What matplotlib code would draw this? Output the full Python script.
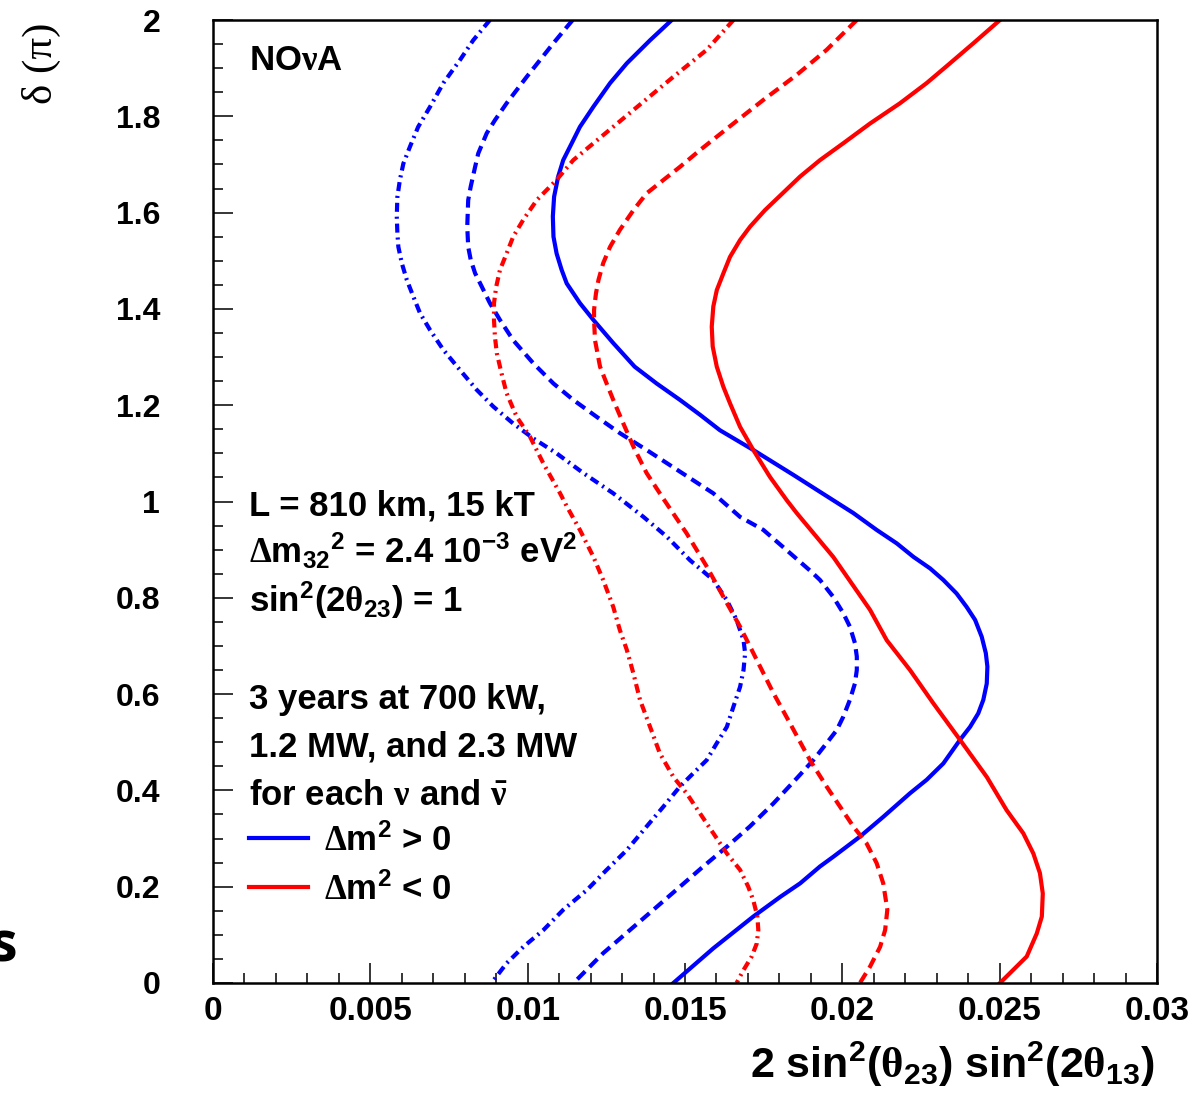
import matplotlib
matplotlib.use("Agg")
import matplotlib.pyplot as plt
from matplotlib.lines import Line2D
from matplotlib.ticker import MultipleLocator

# curves: delta (units of pi) and 2 sin^2(th23) sin^2(2 th13)
BLUE_SOLID_D = [2.000, 1.958, 1.910, 1.869, 1.820, 1.778, 1.744, 1.709, 1.675, 1.633, 1.592,
                1.550, 1.515, 1.481, 1.453, 1.412, 1.377, 1.329, 1.280, 1.245, 1.211, 1.180,
                1.148, 1.107, 1.055, 1.003, 0.976, 0.941, 0.913, 0.885, 0.861, 0.837, 0.809,
                0.781, 0.754, 0.719, 0.685, 0.657, 0.622, 0.588, 0.560, 0.532, 0.505, 0.456,
                0.422, 0.394, 0.345, 0.304, 0.262, 0.242, 0.207, 0.179, 0.138, 0.072, 0.000]
BLUE_SOLID_X = [0.01458, 0.01389, 0.01315, 0.01262, 0.01209, 0.01166, 0.01140, 0.01113, 0.01097,
                0.01084, 0.01080, 0.01082, 0.01092, 0.01108, 0.01124, 0.01166, 0.01209, 0.01272,
                0.01340, 0.01410, 0.01484, 0.01548, 0.01611, 0.01717, 0.01845, 0.01970, 0.02035,
                0.02109, 0.02173, 0.02226, 0.02279, 0.02321, 0.02363, 0.02395, 0.02422, 0.02443,
                0.02456, 0.02461, 0.02459, 0.02448, 0.02432, 0.02406, 0.02374, 0.02321, 0.02268,
                0.02215, 0.02130, 0.02056, 0.01971, 0.01929, 0.01866, 0.01803, 0.01717, 0.01590,
                0.01463]

BLUE_DASH_D = [2.000, 1.952, 1.882, 1.827, 1.792, 1.765, 1.723, 1.695, 1.654, 1.626, 1.571,
               1.529, 1.502, 1.474, 1.453, 1.412, 1.377, 1.335, 1.287, 1.245, 1.211, 1.176,
               1.142, 1.107, 1.062, 1.017, 0.968, 0.941, 0.899, 0.855, 0.837, 0.802, 0.768,
               0.740, 0.706, 0.678, 0.650, 0.622, 0.588, 0.553, 0.525, 0.498, 0.463, 0.425,
               0.373, 0.325, 0.283, 0.242, 0.200, 0.158, 0.110, 0.062, 0.000]
BLUE_DASH_X = [0.01143, 0.01082, 0.00997, 0.00933, 0.00896, 0.00870, 0.00843, 0.00833, 0.00819,
               0.00811, 0.00808, 0.00811, 0.00819, 0.00833, 0.00849, 0.00880, 0.00912, 0.00954,
               0.01018, 0.01082, 0.01145, 0.01219, 0.01293, 0.01378, 0.01484, 0.01590, 0.01675,
               0.01749, 0.01823, 0.01900, 0.01929, 0.01971, 0.02003, 0.02024, 0.02040, 0.02046,
               0.02046, 0.02040, 0.02024, 0.02003, 0.01982, 0.01950, 0.01908, 0.01855, 0.01781,
               0.01706, 0.01633, 0.01558, 0.01484, 0.01410, 0.01325, 0.01240, 0.01146]

BLUE_DOT_D = [2.000, 1.958, 1.917, 1.869, 1.820, 1.778, 1.737, 1.702, 1.668, 1.633, 1.592,
              1.557, 1.529, 1.495, 1.460, 1.425, 1.391, 1.356, 1.315, 1.273, 1.232, 1.197,
              1.162, 1.131, 1.100, 1.059, 1.017, 0.968, 0.927, 0.878, 0.837, 0.795, 0.754,
              0.712, 0.685, 0.650, 0.615, 0.574, 0.532, 0.498, 0.463, 0.436, 0.408, 0.366,
              0.325, 0.276, 0.235, 0.193, 0.152, 0.110, 0.075, 0.041, 0.000]
BLUE_DOT_X = [0.00880, 0.00827, 0.00785, 0.00732, 0.00690, 0.00652, 0.00626, 0.00605, 0.00594,
              0.00586, 0.00584, 0.00586, 0.00589, 0.00600, 0.00616, 0.00637, 0.00658, 0.00690,
              0.00732, 0.00785, 0.00838, 0.00891, 0.00954, 0.01018, 0.01092, 0.01177, 0.01272,
              0.01368, 0.01442, 0.01516, 0.01590, 0.01633, 0.01664, 0.01686, 0.01691, 0.01686,
              0.01675, 0.01654, 0.01633, 0.01601, 0.01569, 0.01527, 0.01484, 0.01431, 0.01378,
              0.01315, 0.01251, 0.01188, 0.01113, 0.01050, 0.00986, 0.00933, 0.00885]

RED_SOLID_D = [2.000, 1.952, 1.910, 1.869, 1.827, 1.785, 1.744, 1.709, 1.675, 1.640, 1.605,
               1.571, 1.543, 1.508, 1.474, 1.439, 1.405, 1.363, 1.322, 1.280, 1.238, 1.204,
               1.155, 1.107, 1.051, 1.003, 0.976, 0.885, 0.775, 0.712, 0.650, 0.581, 0.505,
               0.428, 0.359, 0.311, 0.269, 0.228, 0.186, 0.138, 0.103, 0.055, 0.000]
RED_SOLID_X = [0.02501, 0.02417, 0.02342, 0.02268, 0.02183, 0.02088, 0.02003, 0.01929, 0.01866,
               0.01810, 0.01754, 0.01707, 0.01675, 0.01643, 0.01622, 0.01601, 0.01590, 0.01585,
               0.01588, 0.01601, 0.01622, 0.01643, 0.01675, 0.01717, 0.01770, 0.01823, 0.01855,
               0.01971, 0.02088, 0.02141, 0.02215, 0.02289, 0.02374, 0.02459, 0.02522, 0.02575,
               0.02607, 0.02628, 0.02637, 0.02634, 0.02618, 0.02586, 0.02501]

RED_DASH_D = [2.000, 1.938, 1.886, 1.834, 1.782, 1.730, 1.695, 1.640, 1.605, 1.564, 1.529,
              1.495, 1.460, 1.432, 1.398, 1.377, 1.335, 1.280, 1.245, 1.211, 1.162, 1.114,
              1.059, 1.005, 0.934, 0.865, 0.802, 0.740, 0.671, 0.602, 0.539, 0.463, 0.408,
              0.366, 0.325, 0.290, 0.249, 0.207, 0.152, 0.110, 0.075, 0.034, 0.000]
RED_DASH_X = [0.02046, 0.01950, 0.01855, 0.01749, 0.01648, 0.01548, 0.01484, 0.01378, 0.01336,
              0.01293, 0.01262, 0.01240, 0.01225, 0.01217, 0.01211, 0.01211, 0.01214, 0.01230,
              0.01251, 0.01272, 0.01304, 0.01336, 0.01378, 0.01432, 0.01505, 0.01569, 0.01622,
              0.01675, 0.01728, 0.01781, 0.01834, 0.01897, 0.01950, 0.01993, 0.02035, 0.02077,
              0.02109, 0.02130, 0.02143, 0.02136, 0.02120, 0.02088, 0.02056]

RED_DOT_D = [2.000, 1.938, 1.882, 1.813, 1.744, 1.709, 1.668, 1.626, 1.585, 1.550, 1.515,
             1.481, 1.446, 1.412, 1.377, 1.342, 1.308, 1.266, 1.225, 1.176, 1.135, 1.079,
             1.017, 0.989, 0.941, 0.885, 0.837, 0.781, 0.733, 0.692, 0.643, 0.588, 0.532,
             0.477, 0.428, 0.394, 0.352, 0.311, 0.269, 0.235, 0.200, 0.172, 0.138, 0.110,
             0.082, 0.055, 0.027, 0.000]
RED_DOT_X = [0.01654, 0.01569, 0.01463, 0.01336, 0.01209, 0.01145, 0.01092, 0.01029, 0.00986,
             0.00954, 0.00933, 0.00912, 0.00900, 0.00893, 0.00893, 0.00896, 0.00902, 0.00917,
             0.00933, 0.00965, 0.01007, 0.01050, 0.01103, 0.01125, 0.01166, 0.01209, 0.01240,
             0.01272, 0.01293, 0.01315, 0.01336, 0.01357, 0.01389, 0.01420, 0.01463, 0.01505,
             0.01548, 0.01590, 0.01633, 0.01675, 0.01701, 0.01717, 0.01730, 0.01733, 0.01728,
             0.01712, 0.01686, 0.01664]

X_TICKS = [0, 0.005, 0.01, 0.015, 0.02, 0.025, 0.03]
X_TICKLABELS = ["0", "0.005", "0.01", "0.015", "0.02", "0.025", "0.03"]
Y_TICKS = [0, 0.2, 0.4, 0.6, 0.8, 1.0, 1.2, 1.4, 1.6, 1.8, 2.0]
Y_TICKLABELS = ["0", "0.2", "0.4", "0.6", "0.8", "1", "1.2", "1.4", "1.6", "1.8", "2"]

plt.rcParams['font.family'] = ['Liberation Sans', 'DejaVu Sans']
plt.rcParams['font.weight'] = 'bold'
plt.rcParams['mathtext.fontset'] = 'custom'
plt.rcParams['mathtext.rm'] = 'Liberation Sans:bold'
plt.rcParams['mathtext.it'] = 'Liberation Sans:bold'
plt.rcParams['mathtext.bf'] = 'Liberation Sans:bold'
plt.rcParams['mathtext.sf'] = 'Liberation Serif'
plt.rcParams['lines.scale_dashes'] = False

BLUE = "#0000ff"
RED = "#ff0000"
DASHED = (0, (8, 4.5))
DASHDOT = (0, (6.5, 3.5, 1.5, 3.5))

fig = plt.figure(figsize=(11.94, 10.94), dpi=100)
ax = fig.add_axes([213/1194, 1 - 983/1094, 944/1194, 963/1094])

lw = 3
ax.plot(BLUE_SOLID_X, BLUE_SOLID_D, color=BLUE, lw=lw)
ax.plot(BLUE_DASH_X, BLUE_DASH_D, color=BLUE, lw=lw, ls=DASHED)
ax.plot(BLUE_DOT_X, BLUE_DOT_D, color=BLUE, lw=lw, ls=DASHDOT)
ax.plot(RED_SOLID_X, RED_SOLID_D, color=RED, lw=lw)
ax.plot(RED_DASH_X, RED_DASH_D, color=RED, lw=lw, ls=DASHED)
ax.plot(RED_DOT_X, RED_DOT_D, color=RED, lw=lw, ls=DASHDOT)

ax.set_xlim(0, 0.03)
ax.set_ylim(0, 2)
ax.set_xticks(X_TICKS)
ax.set_xticklabels(X_TICKLABELS)
ax.set_yticks(Y_TICKS)
ax.set_yticklabels(Y_TICKLABELS)
ax.xaxis.set_minor_locator(MultipleLocator(0.001))
ax.yaxis.set_minor_locator(MultipleLocator(0.05))
ax.tick_params(which='both', direction='in', top=False, right=False, width=1.1, color='black')
ax.tick_params(which='major', length=14.4)
ax.tick_params(which='minor', length=7.2)
ax.tick_params(axis='x', which='major', pad=9, labelsize=24)
ax.tick_params(axis='y', which='major', pad=38, labelsize=23)
for sp in ax.spines.values():
    sp.set_linewidth(1.8)

fig.text(1155/1194, 1 - 1078/1094,
         r'2 sin$^{2}$($\mathsf{\theta}_{23}$) sin$^{2}$(2$\mathsf{\theta}_{13}$)',
         ha='right', va='baseline', fontsize=31)
fig.text(41/1194, 1 - 63/1094, 'δ (π)', rotation=90, ha='center', va='center',
         fontsize=31, family='Liberation Serif', fontweight='normal')
fig.text(-10/1194, 1 - 962/1094, 's', fontsize=40, family='Open Sans',
         fontweight='bold', va='baseline')

tx = 36/944
fs = 25
tr = ax.transAxes
ax.text(tx, 0.948, r'NO$\mathsf{\nu}$A', fontsize=fs, va='baseline', transform=tr)
ax.text(tx, 0.485, 'L = 810 km, 15 kT', fontsize=fs, va='baseline', transform=tr)
ax.text(tx, 0.436, r'$\mathsf{\Delta}$m$_{32}{}^{2}$ = 2.4 10$^{-3}$ eV$^{2}$', fontsize=fs,
        va='baseline', transform=tr)
ax.text(tx, 0.385, r'sin$^{2}$(2$\mathsf{\theta}_{23}$) = 1', fontsize=fs, va='baseline', transform=tr)
ax.text(tx, 0.285, '3 years at 700 kW,', fontsize=fs, va='baseline', transform=tr)
ax.text(tx, 0.235, '1.2 MW, and 2.3 MW', fontsize=fs, va='baseline', transform=tr)
ax.text(tx, 0.185, r'for each $\mathsf{\nu}$ and $\mathsf{\bar{\nu}}$', fontsize=fs,
        va='baseline', transform=tr)

handles = [Line2D([], [], color=BLUE, lw=lw), Line2D([], [], color=RED, lw=lw)]
labels = [r'$\mathsf{\Delta}$m$^{2}$ > 0', r'$\mathsf{\Delta}$m$^{2}$ < 0']
ax.legend(handles, labels, loc='upper left', bbox_to_anchor=(36/944, 1 - 803/963),
          frameon=False, fontsize=fs, handlelength=1.7, handletextpad=0.47,
          borderpad=0, borderaxespad=0, labelspacing=0.42)

fig.savefig("out.png", dpi=100)
